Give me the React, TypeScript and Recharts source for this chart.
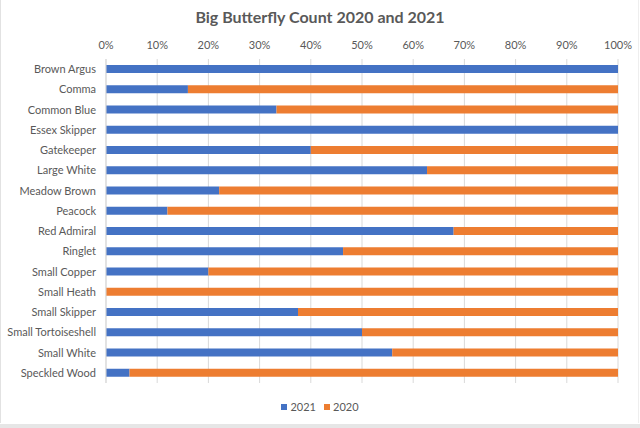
import React from "react";
import { BarChart, Bar, XAxis, YAxis, CartesianGrid } from "recharts";

const categories = [
  "Brown Argus",
  "Comma",
  "Common Blue",
  "Essex Skipper",
  "Gatekeeper",
  "Large White",
  "Meadow Brown",
  "Peacock",
  "Red Admiral",
  "Ringlet",
  "Small Copper",
  "Small Heath",
  "Small Skipper",
  "Small Tortoiseshell",
  "Small White",
  "Speckled Wood",
];

// share (%) of each species in 2021 and 2020
const share2021 = [100, 16, 33.3, 100, 40, 62.7, 22.1, 12, 67.9, 46.3, 20, 0, 37.5, 50, 55.9, 4.6];
const share2020 = [0, 84, 66.7, 0, 60, 37.3, 77.9, 88, 32.1, 53.7, 80, 100, 62.5, 50, 44.1, 95.4];

const xTicks = [0, 10, 20, 30, 40, 50, 60, 70, 80, 90, 100];

const seriesNames = ["2021", "2020"];
const seriesColors = ["#4472C4", "#ED7D31"];

const data = categories.map((name, i) => ({
  name,
  y2021: share2021[i],
  y2020: share2020[i],
}));

const FONT = "Lato, 'Open Sans', sans-serif";
const TEXT = "#595959";

const YTick = (props: any) => {
  const { x, y, payload } = props;
  return (
    <text
      x={x}
      y={y}
      dy="0.355em"
      textAnchor="end"
      fill={TEXT}
      fontSize={11}
      fontFamily={FONT}
    >
      {payload.value}
    </text>
  );
};

export default function App() {
  return (
    <div
      style={{
        position: "absolute",
        left: 0,
        top: 0,
        width: 640,
        height: 428,
        background: "#ffffff",
        fontFamily: FONT,
        overflow: "hidden",
      }}
    >
      <div
        style={{
          position: "absolute",
          left: 0,
          top: 0,
          width: 639,
          height: 423,
          borderLeft: "1px solid #e2e2e2",
          borderRight: "1px solid #eeeeee",
          boxSizing: "border-box",
        }}
      />
      <div
        style={{
          position: "absolute",
          left: 0,
          top: 424,
          width: 640,
          height: 4,
          background: "#e6e6e6",
        }}
      />
      <div
        style={{
          position: "absolute",
          left: 0,
          top: 5,
          width: 640,
          textAlign: "center",
          fontSize: 16,
          fontWeight: 700,
          color: TEXT,
          lineHeight: "24px",
        }}
      >
        Big Butterfly Count 2020 and 2021
      </div>
      <BarChart
        width={640}
        height={428}
        data={data}
        layout="vertical"
        margin={{ top: 29, right: 22, bottom: 45, left: 6 }}
        barSize={8}
        style={{ position: "absolute", left: 0, top: 0 }}
      >
        <CartesianGrid horizontal={false} stroke="#d9d9d9" />
        <XAxis
          type="number"
          orientation="top"
          domain={[0, 100]}
          ticks={xTicks}
          tickFormatter={(v: number) => `${v}%`}
          axisLine={false}
          tickLine={false}
          height={30}
          tickMargin={4}
          tick={{ fill: TEXT, fontSize: 11, fontFamily: FONT }}
          allowDataOverflow
        />
        <YAxis
          type="category"
          dataKey="name"
          width={100}
          axisLine={{ stroke: "#d9d9d9" }}
          tickLine={false}
          tickMargin={4}
          interval={0}
          tick={<YTick />}
        />
        <Bar dataKey="y2021" name="2021" stackId="a" fill={seriesColors[0]} isAnimationActive={false} />
        <Bar dataKey="y2020" name="2020" stackId="a" fill={seriesColors[1]} isAnimationActive={false} />
      </BarChart>
      <div
        style={{
          position: "absolute",
          left: 0,
          top: 399,
          width: 640,
          display: "flex",
          justifyContent: "center",
          alignItems: "center",
          fontSize: 11,
          color: TEXT,
          lineHeight: "16px",
        }}
      >
        {seriesNames.map((n, i) => (
          <span key={n} style={{ display: "inline-flex", alignItems: "center", marginRight: i === 0 ? 8 : 0 }}>
            <span
              style={{
                display: "inline-block",
                width: 6,
                height: 6,
                background: seriesColors[i],
                marginRight: 3,
              }}
            />
            {n}
          </span>
        ))}
      </div>
    </div>
  );
}
